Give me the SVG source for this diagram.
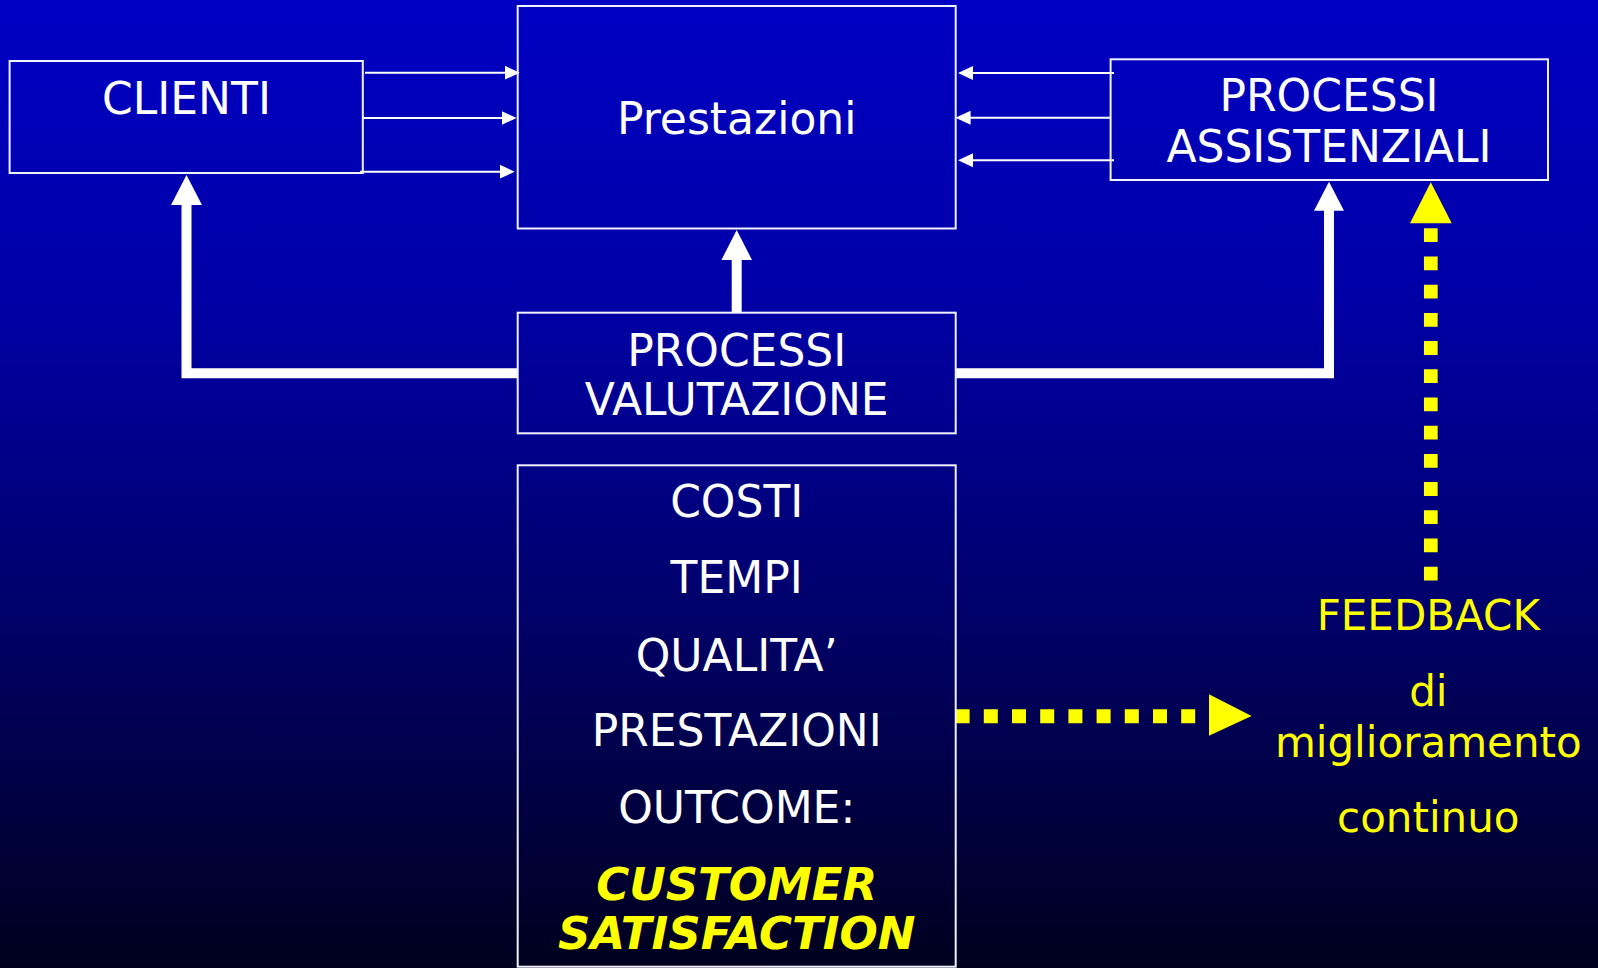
<svg xmlns="http://www.w3.org/2000/svg" width="1598" height="968" viewBox="0 0 1598 968">
<defs>
<linearGradient id="bg" x1="0" y1="0" x2="0" y2="1">
<stop offset="0" stop-color="#0000c4"/>
<stop offset="0.31" stop-color="#0000a6"/>
<stop offset="0.62" stop-color="#00006c"/>
<stop offset="1" stop-color="#00001e"/>
</linearGradient>
<marker id="ah" markerWidth="15" markerHeight="15" refX="5" refY="7.5" orient="auto" markerUnits="userSpaceOnUse">
<path d="M0,0.5 L15,7.5 L0,14.5 z" fill="#ffffff"/>
</marker>
</defs>
<style>
.box{fill:none;stroke:#f0f0ff;stroke-width:2}
.t{font-family:"DejaVu Sans","Liberation Sans",sans-serif;font-size:44px;fill:#ffffff;text-anchor:middle}
.y{font-family:"DejaVu Sans","Liberation Sans",sans-serif;font-size:42px;fill:#ffff00;text-anchor:middle}
.cs{font-family:"DejaVu Sans","Liberation Sans",sans-serif;font-size:45px;font-weight:bold;font-style:italic;fill:#ffff00;text-anchor:middle}
.thin{stroke:#ffffff;stroke-width:2;fill:none}
.thick{stroke:#ffffff;stroke-width:10;fill:none;stroke-linejoin:miter}
.wh{fill:#ffffff}
.yd{stroke:#ffff00;fill:none}
.yh{fill:#ffff00}
</style>
<rect x="0" y="0" width="1598" height="968" fill="url(#bg)"/>

<g id="connectors">
<line class="thin" x1="365" y1="72.7" x2="509.7" y2="72.7" marker-end="url(#ah)"/>
<line class="thin" x1="362" y1="118" x2="506.6" y2="118" marker-end="url(#ah)"/>
<line class="thin" x1="360" y1="171.7" x2="504.7" y2="171.7" marker-end="url(#ah)"/>
<line class="thin" x1="1114" y1="73" x2="968" y2="73" marker-end="url(#ah)"/>
<line class="thin" x1="1110.6" y1="117.7" x2="965.6" y2="117.7" marker-end="url(#ah)"/>
<line class="thin" x1="1114" y1="160.3" x2="968" y2="160.3" marker-end="url(#ah)"/>

<polyline class="thick" points="517.7,373.3 186.5,373.3 186.5,204"/>
<polygon class="wh" points="171,205 202,205 186.5,175"/>
<polyline class="thick" points="955.7,373.3 1329,373.3 1329,209.7"/>
<polygon class="wh" points="1314,210.7 1344,210.7 1329,181.7"/>
<line class="thick" x1="736.7" y1="312.7" x2="736.7" y2="259"/>
<polygon class="wh" points="721.4,260 752,260 736.7,230"/>

<line class="yd" x1="1430.8" y1="228.3" x2="1430.8" y2="580.7" stroke-width="13.7" stroke-dasharray="13.8 14.4"/>
<polygon class="yh" points="1410,223.3 1451.7,223.3 1430.8,182.3"/>
<line class="yd" x1="955.6" y1="716.2" x2="1195.5" y2="716.2" stroke-width="14" stroke-dasharray="14 14.2"/>
<polygon class="yh" points="1209,694.3 1209,735.7 1251.6,716"/>
</g>

<g id="clienti">
<rect class="box" x="9.6" y="61" width="353.2" height="112"/>
<text class="t" x="186.5" y="114" font-size="45">CLIENTI</text>
</g>

<g id="prestazioni">
<rect class="box" x="517.7" y="6" width="438" height="222.5"/>
<text class="t" x="736.7" y="133.5" font-size="41.5">Prestazioni</text>
</g>

<g id="processi-assistenziali">
<rect class="box" x="1110.6" y="59.3" width="437.4" height="120.7"/>
<text class="t" x="1329" y="111" font-size="44.8">PROCESSI</text>
<text class="t" x="1329" y="162" font-size="44.8">ASSISTENZIALI</text>
</g>

<g id="processi-valutazione">
<rect class="box" x="517.7" y="312.7" width="438" height="120.6"/>
<text class="t" x="736.7" y="365.7">PROCESSI</text>
<text class="t" x="736.7" y="415">VALUTAZIONE</text>
</g>

<g id="indicatori">
<rect class="box" x="517.7" y="465.3" width="438" height="501.4"/>
<text class="t" x="736.7" y="516.7">COSTI</text>
<text class="t" x="736.7" y="593.3">TEMPI</text>
<text class="t" x="736.7" y="670.7">QUALITA’</text>
<text class="t" x="736.7" y="746">PRESTAZIONI</text>
<text class="t" x="736.7" y="822.7">OUTCOME:</text>
<text class="cs" x="736.7" y="900">CUSTOMER</text>
<text class="cs" x="736.7" y="949.3">SATISFACTION</text>
</g>

<g id="feedback">
<text class="y" x="1428.3" y="630">FEEDBACK</text>
<text class="y" x="1428.3" y="706">di</text>
<text class="y" x="1428.3" y="756.7">miglioramento</text>
<text class="y" x="1428.3" y="832">continuo</text>
</g>
</svg>
